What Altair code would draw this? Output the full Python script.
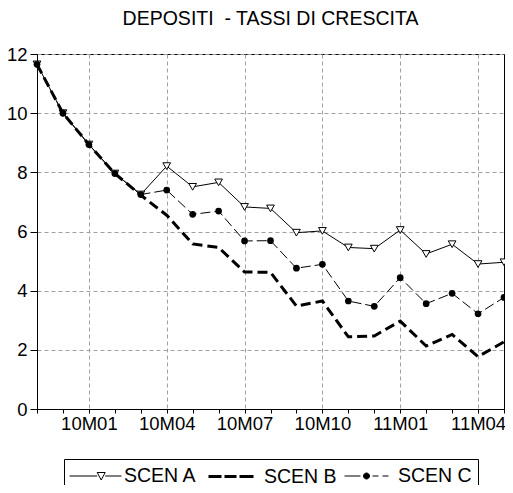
import altair as alt
import pandas as pd

# ---- data ----
months = ["09M11", "09M12", "10M01", "10M02", "10M03", "10M04", "10M05", "10M06",
          "10M07", "10M08", "10M09", "10M10", "10M11", "10M12", "11M01", "11M02",
          "11M03", "11M04", "11M05"]
quarter_labels = ["10M01", "10M04", "10M07", "10M10", "11M01", "11M04"]
series_names = ["SCEN A", "SCEN B", "SCEN C"]

scen_a = [11.65, 10.0, 8.94, 7.96, 7.25, 8.21, 7.51, 7.66, 6.83, 6.78, 5.96, 6.02,
          5.46, 5.42, 6.05, 5.24, 5.57, 4.90, 4.96]
scen_b = [11.65, 10.0, 8.94, 7.96, 7.23, 6.55, 5.58, 5.46, 4.63, 4.62, 3.48, 3.65,
          2.44, 2.47, 2.97, 2.13, 2.52, 1.77, 2.27]
scen_c = [11.65, 10.0, 8.94, 7.96, 7.25, 7.40, 6.58, 6.69, 5.68, 5.69, 4.76, 4.89,
          3.65, 3.47, 4.44, 3.56, 3.91, 3.22, 3.77]

y_ticks = [0, 2, 4, 6, 8, 10, 12]
title_text = "DEPOSITI\u00a0\u00a0- TASSI DI CRESCITA"

rows = []
for name, vals in zip(series_names, [scen_a, scen_b, scen_c]):
    for m, v in zip(months, vals):
        rows.append({"month": m, "series": name, "value": v})
df = pd.DataFrame(rows)

FONT = "Liberation Sans"

qlist = "[" + ",".join("'" + q + "'" for q in quarter_labels) + "]"

x_enc = alt.X(
    "month:O",
    sort=months,
    scale=alt.Scale(type="point", domain=months, padding=0),
    axis=alt.Axis(
        title=None,
        labelAngle=0,
        labelExpr=f"indexof({qlist}, datum.value) >= 0 ? datum.value : ''",
        labelOverlap=False,
        labelFont=FONT,
        labelFontSize=18.5,
        labelColor="black",
        labelPadding=1,
        tickSize=4,
        tickColor="black",
        domainColor="black",
        grid=True,
        gridColor="#a0a0a0",
        gridDash=[4, 3],
        gridOpacity={"condition": {"test": f"indexof({qlist}, datum.value) >= 0", "value": 1}, "value": 0},
    ),
)
y_enc = alt.Y(
    "value:Q",
    scale=alt.Scale(domain=[0, 12], nice=False, zero=False),
    axis=alt.Axis(
        title=None,
        values=y_ticks,
        labelFont=FONT,
        labelFontSize=18.5,
        labelColor="black",
        labelPadding=3,
        tickSize=7,
        tickColor="black",
        domainColor="black",
        grid=True,
        gridColor="#a0a0a0",
        gridDash=[4, 3],
    ),
)

base = alt.Chart(df).encode(x=x_enc, y=y_enc)

line_a = base.transform_filter("datum.series == 'SCEN A'").mark_line(color="black", strokeWidth=1)
pts_a = base.transform_filter("datum.series == 'SCEN A'").mark_point(
    shape="triangle-down", fill="white", stroke="black", strokeWidth=1, size=60, opacity=1, filled=False)
line_b = base.transform_filter("datum.series == 'SCEN B'").mark_line(
    color="black", strokeWidth=3, strokeDash=[10, 5])
line_c = base.transform_filter("datum.series == 'SCEN C'").mark_line(
    color="black", strokeWidth=1, strokeDash=[10, 4])
pts_c = base.transform_filter("datum.series == 'SCEN C'").mark_point(
    shape="circle", filled=True, color="black", size=45, opacity=1)

# legend symbols (custom paths: line sample + marker)
path_a = "M-1.1,0H1.67M2.47,0H4.1M1.67,-0.35L2.47,-0.35L2.07,0.4Z"
path_b = "M-1.1,0H0.2M0.5,0H1.7M2.0,0H3.4"
path_c = "M-1.0,0H0.6M1.8,0H2.4M2.8,0H3.4M1.5,0A0.3,0.3 0 1,1 0.9,0A0.3,0.3 0 1,1 1.5,0Z"

legend_layer = alt.Chart(df).transform_filter("datum.value < -1000").mark_point(
    opacity=1, filled=False
).encode(
    x=alt.X("month:O", sort=months, scale=alt.Scale(type="point", domain=months, padding=0)),
    y=alt.Y("value:Q"),
    shape=alt.Shape("series:N", scale=alt.Scale(domain=series_names, range=[path_a, path_b, path_c]),
                    legend=alt.Legend(title=None)),
    fill=alt.Fill("series:N", scale=alt.Scale(domain=series_names, range=["white", "transparent", "black"]),
                  legend=alt.Legend(title=None)),
    stroke=alt.Stroke("series:N", scale=alt.Scale(domain=series_names, range=["black", "black", "black"]),
                      legend=alt.Legend(title=None)),
    strokeWidth=alt.StrokeWidth("series:N",
                                scale=alt.Scale(type="ordinal", domain=series_names, range=[1, 3, 1]),
                                legend=alt.Legend(title=None)),
)

chart = alt.layer(line_a, pts_a, line_b, line_c, pts_c, legend_layer).properties(
    width=467,
    height=355,
    title=alt.TitleParams(title_text, font=FONT, fontSize=19.5, fontWeight="normal", color="black",
                          anchor="middle", baseline="alphabetic", offset=1),
    autosize=alt.AutoSizeParams(type="none"),
    padding={"left": 29, "top": 46, "right": 1, "bottom": 76},
).configure_view(
    stroke="black", strokeWidth=1
).configure_legend(
    orient="none",
    legendX=27,
    legendY=405,
    direction="horizontal",
    strokeColor="black",
    padding=6,
    symbolSize=400,
    symbolStrokeColor="black",
    labelOffset=33,
    columnPadding=5,
    labelFont=FONT,
    labelFontSize=19.5,
    labelColor="black",
    cornerRadius=0,
)

chart.save("out.html", embed_options={"renderer": "svg", "actions": False})
